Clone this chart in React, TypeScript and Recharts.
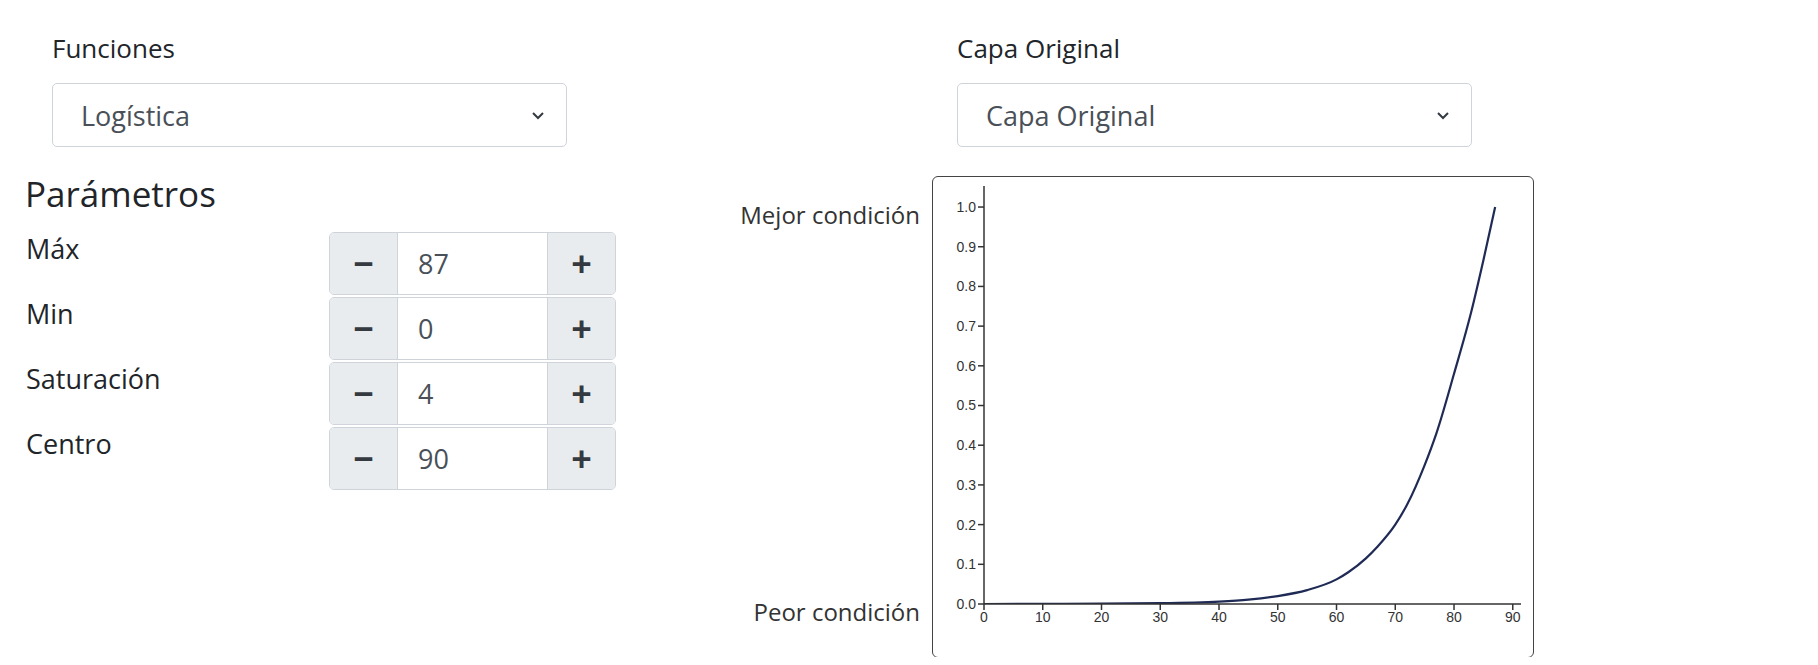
import React from 'react';
import { LineChart, Line, XAxis, YAxis } from 'recharts';

// values
const xs = [0, 10, 20, 30, 40, 45, 50, 55, 60, 62, 65, 67, 70, 72, 75, 77, 80, 83, 85, 87];
const ys = [0, 0.0005, 0.001, 0.002, 0.006, 0.011, 0.02, 0.035, 0.062, 0.08, 0.115, 0.145, 0.2, 0.25, 0.35, 0.43, 0.58, 0.74, 0.866, 1.0];
const xTicks = [0, 10, 20, 30, 40, 50, 60, 70, 80, 90];
const yTicks = [0, 0.1, 0.2, 0.3, 0.4, 0.5, 0.6, 0.7, 0.8, 0.9, 1.0];
const params = [
  { label: 'Máx', value: '87' },
  { label: 'Min', value: '0' },
  { label: 'Saturación', value: '4' },
  { label: 'Centro', value: '90' },
];

const data = xs.map((x, i) => ({ x, y: ys[i] }));
const font = '"Open Sans", sans-serif';

function Select({ left, text }: { left: number; text: string }) {
  return (
    <div style={{ position: 'absolute', left, top: 75, width: 515, height: 64, boxSizing: 'border-box', border: '1px solid #ced4da', borderRadius: 5, background: '#fff' }}>
      <span style={{ position: 'absolute', left: 28, top: 13, fontSize: 27, color: '#495057' }}>{text}</span>
      <svg style={{ position: 'absolute', right: 22, top: 27 }} width="12" height="9" viewBox="0 0 12 9">
        <path d="M1 2 L6 7 L11 2" stroke="#343a40" strokeWidth="2" fill="none" />
      </svg>
    </div>
  );
}

export default function App() {
  return (
    <div style={{ position: 'relative', width: 1802, height: 649, fontFamily: font, color: '#212529' }}>
      <div style={{ position: 'absolute', left: 44, top: 22, fontSize: 26 }}>Funciones</div>
      <Select left={44} text="Logística" />
      <div style={{ position: 'absolute', left: 949, top: 22, fontSize: 26 }}>Capa Original</div>
      <Select left={949} text="Capa Original" />
      <div style={{ position: 'absolute', left: 17, top: 162, fontSize: 35 }}>Parámetros</div>
      {params.map((p, i) => (
        <React.Fragment key={p.label}>
          <div style={{ position: 'absolute', left: 18, top: 222 + i * 65, fontSize: 27 }}>{p.label}</div>
          <div style={{ position: 'absolute', left: 321, top: 224 + i * 65, width: 287, height: 63, boxSizing: 'border-box', border: '1px solid #ced4da', borderRadius: 5, display: 'flex', overflow: 'hidden' }}>
            <div style={{ width: 67, background: '#e9ecef', borderRight: '1px solid #ced4da', display: 'flex', alignItems: 'center', justifyContent: 'center', fontSize: 36, fontWeight: 700, color: '#343a40' }}>−</div>
            <div style={{ flex: 1, background: '#fff', display: 'flex', alignItems: 'center', paddingLeft: 20, fontSize: 27, color: '#495057' }}>{p.value}</div>
            <div style={{ width: 67, background: '#e9ecef', borderLeft: '1px solid #ced4da', display: 'flex', alignItems: 'center', justifyContent: 'center', fontSize: 36, fontWeight: 700, color: '#343a40' }}>+</div>
          </div>
        </React.Fragment>
      ))}
      <div style={{ position: 'absolute', right: 1802 - 912, top: 190, fontSize: 24, color: '#333' }}>Mejor condición</div>
      <div style={{ position: 'absolute', right: 1802 - 912, top: 587, fontSize: 24, color: '#333' }}>Peor condición</div>
      <div style={{ position: 'absolute', left: 924, top: 168, width: 602, height: 482, boxSizing: 'border-box', border: '1.5px solid #444', borderRadius: 6, background: '#fff' }}>
        <LineChart width={599} height={479} data={data} margin={{ top: 9, right: 11, left: 11, bottom: 22 }}>
          <XAxis dataKey="x" type="number" domain={[0, 91.4]} ticks={xTicks} interval={0} allowDataOverflow
            tick={{ fill: '#333', fontSize: 14, fontFamily: 'Liberation Sans, Arial' }} tickSize={6}
            stroke="#333" strokeWidth={1.5} height={30} />
          <YAxis type="number" domain={[0, 1.053]} ticks={yTicks} interval={0} allowDataOverflow width={40}
            tickFormatter={(v: number) => v.toFixed(1)}
            tick={{ fill: '#333', fontSize: 14, fontFamily: 'Liberation Sans, Arial' }} tickSize={6}
            stroke="#333" strokeWidth={1.5} />
          <Line dataKey="y" type="monotone" stroke="#1f2b55" strokeWidth={2.2} dot={false} isAnimationActive={false} />
        </LineChart>
      </div>
    </div>
  );
}
